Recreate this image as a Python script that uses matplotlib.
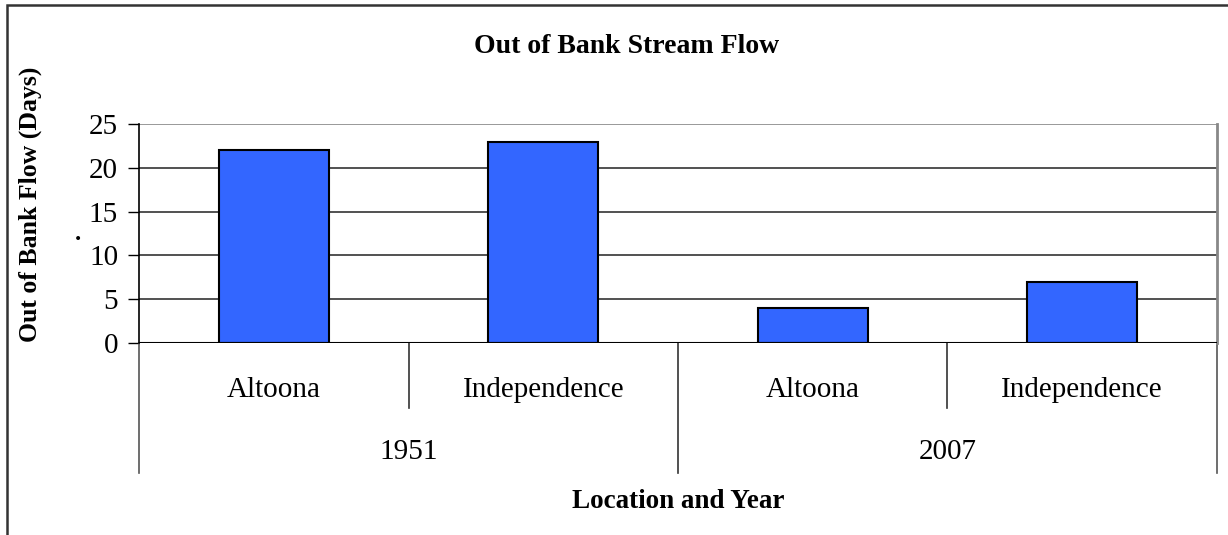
import matplotlib.pyplot as plt
from matplotlib.patches import Rectangle
import matplotlib.transforms as mtransforms

plt.rcParams['font.family'] = ['Liberation Serif', 'DejaVu Serif']

locations = ['Altoona', 'Independence', 'Altoona', 'Independence']
years = ['1951', '2007']
days = [22, 23, 4, 7]
yticks = [0, 5, 10, 15, 20, 25]

fig = plt.figure(figsize=(12.28, 5.35), dpi=100)
ax = fig.add_axes([139/1228, 1 - 343/535, (1217 - 139)/1228, (343 - 124)/535])

x = list(range(len(days)))
ax.bar(x, days, width=0.41, color='#3366FF', edgecolor='black', linewidth=1.5, zorder=3)

ax.set_xlim(-0.5, len(days) - 0.5)
ax.set_ylim(0, 25)
ax.set_yticks(yticks)
ax.set_yticklabels([str(t) for t in yticks], fontsize=21)
ax.tick_params(axis='y', direction='out', length=8, width=1, pad=7)
ax.set_xticks([])
for t in yticks[1:]:
    ax.axhline(t, color='#333333' if t < 25 else '#888888', linewidth=1.2, zorder=1)

for s in ['top', 'bottom']:
    ax.spines[s].set_visible(False)
ax.spines['left'].set_color('black')
ax.spines['left'].set_linewidth(1.2)
ax.spines['right'].set_color('#888888')
ax.spines['right'].set_linewidth(2)
ax.axhline(0, color='black', linewidth=1.5, zorder=4)

# category axis below the plot
tr = mtransforms.blended_transform_factory(ax.transData, ax.transAxes)
h = 343 - 124
inner = -(408 - 343) / h
outer = -(473 - 343) / h
for i in range(len(days) + 1):
    xb = i - 0.5
    bottom = outer if i % 2 == 0 else inner
    col = '#555555' if i in (0, len(days)) else '#333333'
    ax.plot([xb, xb], [0, bottom], transform=tr, color=col, linewidth=1.2, clip_on=False)
for i, name in enumerate(locations):
    ax.text(i, -(390 - 343) / h, name, transform=tr, ha='center', va='center', fontsize=21)
for j, yr in enumerate(years):
    ax.text(2 * j + 0.5, -(452 - 343) / h, yr, transform=tr, ha='center', va='center', fontsize=21)

fig.text(627/1228, 1 - 47/535, 'Out of Bank Stream Flow', ha='center', va='center',
         fontsize=20, fontweight='bold')
fig.text(678/1228, 1 - 501/535, 'Location and Year', ha='center', va='center',
         fontsize=19.5, fontweight='bold')
fig.text(30/1228, 1 - 204/535, 'Out of Bank Flow (Days)', ha='center', va='center',
         rotation=90, fontsize=18.5, fontweight='bold')
fig.text(78/1228, 1 - 234/535, '.', ha='center', va='center', fontsize=18, fontweight='bold')

# outer chart border
fig.patches.append(Rectangle((7/1228, -0.1), 1.2, 1 - 5/535 + 0.1, transform=fig.transFigure,
                             fill=False, edgecolor='#333333', linewidth=1.8))

fig.savefig('out.png', dpi=100)
